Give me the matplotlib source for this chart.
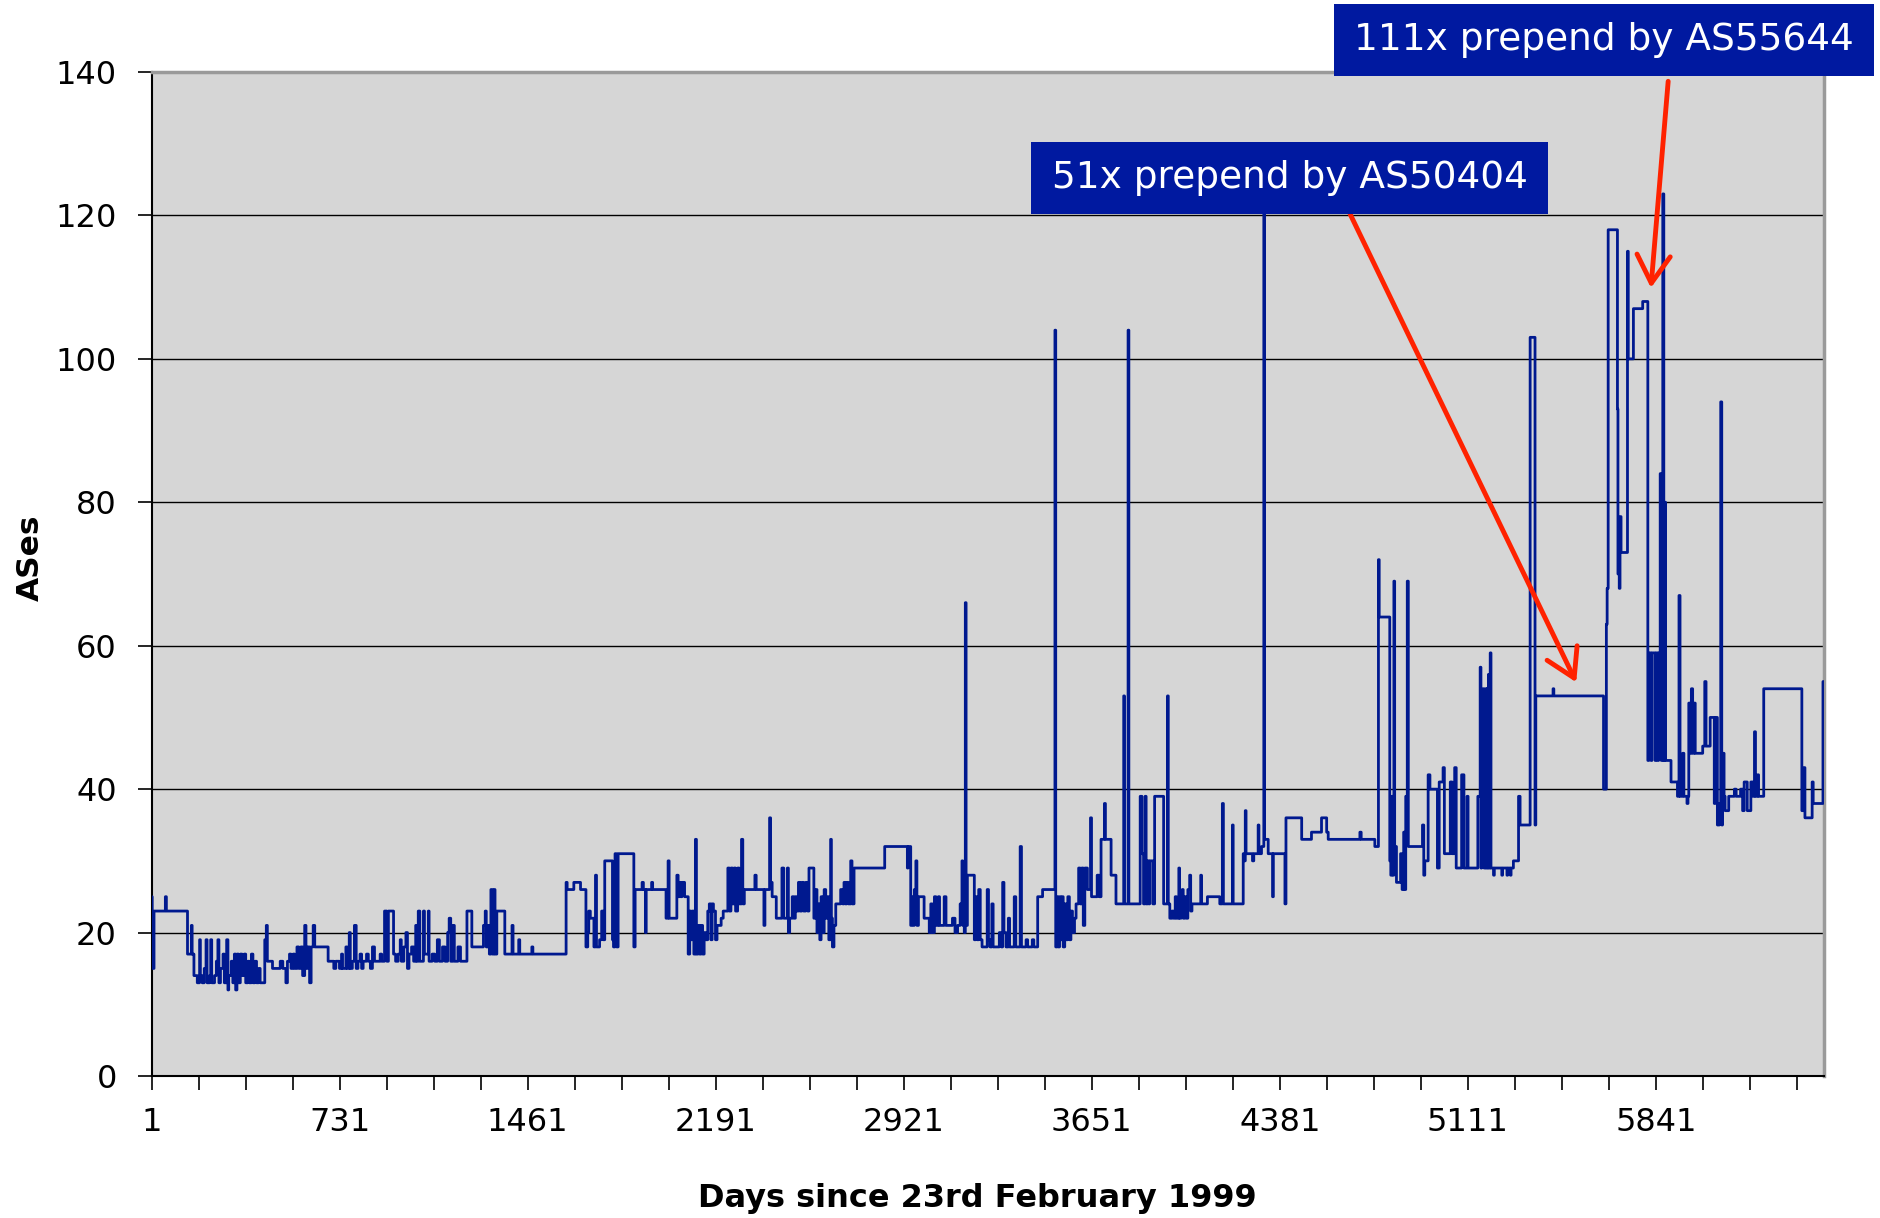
import matplotlib
matplotlib.use("Agg")
import numpy as np
import matplotlib.pyplot as plt
from matplotlib.patches import Rectangle

# AS path length (step series), day index since 23 Feb 1999 -> number of ASes
days = [
    1, 3, 10, 54, 58, 140, 155, 158, 165, 178,
    187, 190, 197, 205, 212, 216, 226, 230, 234, 245,
    252, 258, 262, 268, 278, 283, 292, 297, 300, 310,
    316, 322, 327, 332, 338, 345, 352, 360, 366, 374,
    380, 388, 394, 402, 408, 416, 422, 440, 446, 450,
    470, 500, 510, 522, 528, 536, 542, 550, 556, 565,
    572, 580, 587, 595, 600, 606, 614, 620, 628, 634,
    686, 708, 716, 730, 738, 742, 755, 760, 768, 772,
    780, 788, 795, 802, 810, 816, 822, 835, 842, 850,
    858, 866, 888, 894, 905, 914, 920, 940, 948, 958,
    966, 970, 980, 988, 994, 1000, 1010, 1018, 1026, 1030,
    1036, 1042, 1056, 1060, 1075, 1078, 1090, 1100, 1110, 1118,
    1130, 1140, 1150, 1156, 1162, 1170, 1176, 1190, 1200, 1225,
    1244,
    1270, 1289, 1296, 1300, 1306, 1312, 1318, 1324, 1330, 1334,
    1341, 1372, 1400, 1404, 1426, 1430, 1477, 1481, 1610, 1614,
    1640, 1666, 1687, 1694, 1698, 1704, 1718, 1724, 1728, 1740,
    1748, 1754, 1760, 1790, 1794, 1800, 1806, 1812, 1873, 1878,
    1905, 1910, 1918, 1921, 1942, 1946, 1998, 2006, 2010, 2040,
    2045, 2050, 2055, 2060, 2070, 2084, 2090, 2095, 2100, 2106,
    2112, 2116, 2122, 2128, 2134, 2140, 2146, 2152, 2160, 2166,
    2172, 2177, 2182, 2190, 2196, 2212, 2220, 2238, 2244, 2250,
    2256, 2262, 2268, 2276, 2282, 2291, 2296, 2302, 2343, 2348,
    2378, 2382, 2400, 2404, 2410, 2426, 2448, 2455, 2469, 2473,
    2478, 2488, 2494, 2500, 2506, 2512, 2518, 2525, 2532, 2540,
    2548,
    2553, 2572, 2578, 2584, 2590, 2595, 2600, 2606, 2612, 2618,
    2624, 2630, 2637, 2640, 2644, 2650, 2657, 2676, 2684, 2689,
    2694, 2700, 2706, 2715, 2720, 2728, 2847, 2935, 2938, 2948,
    2952, 2958, 2962, 2968, 2972, 2978, 3000, 3020, 3026, 3032,
    3040, 3046, 3055, 3060, 3078, 3085, 3110, 3120, 3130, 3140,
    3147, 3150, 3156, 3160, 3163, 3168, 3195, 3200, 3206, 3212,
    3218, 3225, 3245, 3250, 3256, 3263, 3268, 3292, 3300, 3305,
    3310, 3318, 3327, 3332, 3350, 3356, 3373, 3378, 3396, 3402,
    3420, 3426, 3441, 3460, 3508, 3511, 3516, 3520, 3526, 3530,
    3535, 3540, 3546, 3552, 3558, 3564, 3570, 3576, 3584, 3590,
    3600, 3606, 3612, 3618, 3624, 3634, 3646, 3650, 3672, 3680,
    3687, 3700, 3704, 3726, 3745, 3775, 3778, 3792, 3795, 3839,
    3846, 3852, 3858, 3862, 3868, 3872, 3876, 3888, 3895, 3930,
    3945, 3948, 3954, 3962, 3968, 3975, 3980, 3989, 3992, 3998,
    4002, 4006, 4012, 4018, 4024, 4031, 4035, 4040, 4074, 4077,
    4100, 4148, 4158, 4162, 4197, 4200, 4239, 4244, 4247, 4250,
    4275, 4280, 4297, 4300, 4310, 4319, 4322, 4336, 4353, 4356,
    4401, 4405, 4466, 4504, 4543, 4563, 4569, 4692, 4697, 4750,
    4764, 4767, 4808, 4812, 4816, 4820, 4824, 4827, 4834, 4850,
    4856, 4862, 4866, 4870, 4876, 4880, 4935, 4940, 4944, 4957,
    4964, 4993, 5000, 5015, 5020, 5043, 5050, 5060, 5066, 5087,
    5096, 5108, 5112,
    5150, 5159, 5162, 5165, 5170, 5174, 5180, 5183, 5186, 5189,
    5191, 5194, 5198, 5201, 5211, 5214, 5243, 5246, 5263, 5266,
    5276, 5279, 5288, 5308, 5314, 5353, 5372, 5375, 5442, 5445,
    5638, 5649, 5652, 5656, 5692, 5694, 5699, 5702, 5706, 5731,
    5734, 5754, 5790, 5810, 5814, 5822, 5826, 5838, 5842, 5848,
    5852, 5858, 5862, 5868, 5872, 5876, 5879, 5900, 5925, 5931,
    5935, 5945, 5950, 5962, 5966, 5969, 5974, 5979, 5984, 5990,
    5994, 6023, 6031, 6036, 6052, 6068, 6072, 6080, 6088, 6093,
    6097, 6100, 6106, 6110, 6124, 6146, 6153, 6170, 6178, 6184,
    6196, 6210, 6218, 6224, 6228, 6236, 6240, 6260, 6408, 6416,
    6420, 6448, 6452, 6490, 6494,
]
ases = [
    25, 15, 23, 25, 23, 17, 21, 17, 14, 13,
    19, 14, 13, 15, 19, 13, 14, 19, 13, 14,
    16, 19, 13, 15, 17, 13, 19, 12, 14, 16,
    13, 17, 12, 17, 13, 17, 14, 17, 13, 16,
    13, 17, 13, 16, 13, 15, 13, 19, 21, 16,
    15, 16, 15, 13, 16, 17, 15, 17, 15, 18,
    15, 18, 14, 21, 15, 18, 13, 18, 21, 18,
    16, 15, 16, 15, 17, 15, 18, 15, 20, 15,
    16, 21, 15, 16, 17, 15, 16, 17, 16, 15,
    18, 16, 17, 16, 23, 16, 23, 17, 16, 17,
    19, 16, 18, 20, 15, 17, 18, 16, 21, 16,
    23, 16, 23, 17, 23, 16, 17, 16, 19, 16,
    18, 16, 20, 22, 16, 21, 16, 18, 16, 23,
    18,
    18, 21, 23, 18, 21, 17, 26, 17, 26, 17,
    23, 17, 21, 17, 19, 17, 18, 17, 27, 26,
    27, 26, 18, 20, 23, 22, 18, 28, 18, 19,
    23, 19, 30, 19, 18, 31, 18, 31, 18, 26,
    27, 26, 20, 26, 27, 26, 22, 30, 22, 28,
    25, 27, 25, 27, 25, 17, 23, 19, 23, 17,
    33, 17, 21, 17, 21, 17, 20, 19, 23, 24,
    19, 24, 23, 19, 21, 22, 23, 29, 23, 29,
    24, 29, 23, 29, 24, 33, 24, 26, 28, 26,
    21, 26, 36, 27, 25, 22, 29, 22, 29, 20,
    22, 25, 22, 25, 23, 27, 23, 27, 23, 27,
    23,
    29, 22, 26, 20, 24, 19, 25, 20, 26, 22,
    25, 19, 33, 22, 18, 21, 24, 26, 24, 27,
    24, 27, 24, 30, 24, 29, 32, 29, 32, 21,
    25, 21, 26, 30, 21, 25, 22, 20, 24, 20,
    25, 21, 25, 21, 25, 21, 22, 20, 21, 24,
    30, 21, 20, 66, 21, 28, 19, 25, 19, 26,
    19, 18, 26, 19, 18, 24, 18, 20, 18, 27,
    20, 18, 22, 18, 25, 18, 32, 18, 19, 18,
    19, 18, 25, 26, 104, 18, 25, 18, 25, 19,
    25, 18, 24, 19, 25, 19, 23, 20, 22, 24,
    29, 24, 29, 21, 29, 26, 36, 25, 28, 25,
    33, 38, 33, 28, 24, 53, 24, 104, 24, 39,
    31, 24, 39, 24, 30, 24, 30, 24, 39, 24,
    53, 24, 22, 23, 22, 25, 22, 29, 22, 25,
    26, 22, 25, 22, 26, 28, 23, 24, 28, 24,
    25, 24, 38, 24, 35, 24, 31, 30, 37, 31,
    30, 31, 35, 31, 32, 121, 33, 31, 25, 31,
    24, 36, 33, 34, 36, 34, 33, 34, 33, 32,
    72, 64, 30, 28, 39, 28, 69, 32, 27, 31,
    26, 34, 26, 39, 69, 32, 35, 28, 30, 42,
    40, 29, 41, 43, 31, 41, 31, 43, 29, 42,
    29, 39, 29,
    39, 57, 29, 30, 54, 29, 54, 29, 54, 29,
    56, 29, 59, 29, 28, 29, 28, 29, 28, 29,
    28, 29, 30, 39, 35, 103, 35, 53, 54, 53,
    40, 63, 68, 118, 93, 70, 68, 78, 73, 115,
    100, 107, 108, 44, 59, 44, 59, 44, 59, 44,
    59, 84, 44, 123, 44, 80, 44, 41, 39, 67,
    39, 45, 39, 38, 39, 52, 45, 54, 45, 52,
    45, 46, 55, 46, 50, 38, 50, 35, 38, 94,
    35, 45, 39, 37, 39, 40, 39, 40, 37, 41,
    37, 41, 39, 48, 39, 42, 39, 54, 37, 43,
    36, 41, 38, 55, 55,
]

x_labels = ["1", "731", "1461", "2191", "2921", "3651", "4381", "5111", "5841"]
y_ticks = [0, 20, 40, 60, 80, 100, 120, 140]

notes = ["51x prepend by AS50404", "111x prepend by AS55644"]
# arrow (start, tip) in data coords
arrows = [((4654, 120.2), (5532, 54.9)), ((5889, 138.7), (5822, 109.9))]

W, H = 1881, 1218
fig = plt.figure(figsize=(W / 100, H / 100), dpi=100)
ax = fig.add_axes([151.7 / W, 1 - 1076 / H, (1824 - 151.7) / W, (1076 - 72) / H])
ax.set_facecolor("#d6d6d6")

for y in y_ticks[1:-1]:
    ax.axhline(y, color="black", lw=1.0, zorder=1)

ax.step(days, ases, where="post", color="#00198f", lw=2.0, zorder=3)

ax.set_xlim(1, 6494)
ax.set_ylim(0, 140)
ax.set_yticks(y_ticks)
ax.set_xticks([int(s) for s in x_labels])
ax.set_xticklabels(x_labels)
ax.set_xticks(np.arange(1, 6494, 182.5), minor=True)

for side in ["left", "bottom"]:
    ax.spines[side].set_color("black")
    ax.spines[side].set_linewidth(1.5)
for side in ["top", "right"]:
    ax.spines[side].set_color("#9a9a9a")
    ax.spines[side].set_linewidth(2.5)

ax.tick_params(axis="both", which="both", direction="out", length=10, width=1.2,
               colors="black", labelsize=23)
ax.tick_params(axis="y", pad=15)
ax.tick_params(axis="x", pad=12)

fig.text(977 / W, 1 - 1198 / H, "Days since 23rd February 1999", ha="center", va="center",
         fontsize=23, fontweight="bold")
fig.text(30 / W, 1 - 558 / H, "ASes", ha="center", va="center", rotation=90,
         fontsize=22.5, fontweight="bold")

# note boxes (pixel boxes: x0, y0, x1, y1 from the top-left)
boxes = [(1031, 142, 1548, 214), (1334, 4, 1874, 76)]
for (x0, y0, x1, y1), txt in zip(boxes, notes):
    fig.patches.append(Rectangle((x0 / W, 1 - y1 / H), (x1 - x0) / W, (y1 - y0) / H,
                                 transform=fig.transFigure, facecolor="#0019a0",
                                 edgecolor="none", zorder=5))
    fig.text((x0 + x1) / 2 / W, 1 - (y0 + y1) / 2 / H, txt, ha="center", va="center",
             color="white", fontsize=27, zorder=6)

for start, tip in arrows:
    ax.annotate("", xy=tip, xytext=start, annotation_clip=False,
                arrowprops=dict(arrowstyle="->,head_length=0.5,head_width=0.3",
                                color="#ff2200", lw=3.5, mutation_scale=40,
                                shrinkA=0, shrinkB=0), zorder=7)

fig.savefig("out.png", dpi=100)
